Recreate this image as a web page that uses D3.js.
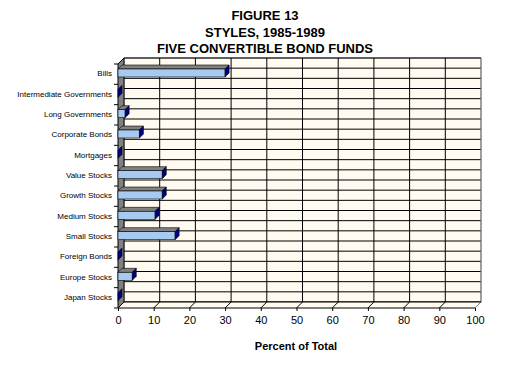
<!DOCTYPE html>
<html><head><meta charset="utf-8">
<script src="https://cdn.jsdelivr.net/npm/d3@7"></script>
<style>body{margin:0;background:#fff}svg{display:block}</style>
</head><body>
<svg id="c" width="505" height="383"></svg>
<script>
const titleLines = ["FIGURE 13", "STYLES, 1985-1989", "FIVE CONVERTIBLE BOND FUNDS"];
const categories = ["Bills","Intermediate Governments","Long Governments","Corporate Bonds","Mortgages","Value Stocks","Growth Stocks","Medium Stocks","Small Stocks","Foreign Bonds","Europe Stocks","Japan Stocks"];
const values = [30, 0, 2, 6, 0, 12.4, 12.4, 10.4, 16, 0, 4, 0];
const xTicks = [0,10,20,30,40,50,60,70,80,90,100];
const xTitle = "Percent of Total";

const svg = d3.select("#c");
const x = d3.scaleLinear().domain([0,100]).range([118,475]);
const y = d3.scaleBand().domain(categories).range([64,308]);
const dx = 6, dy = -6;       // wall depth
const bdx = 4, bdy = -4;     // bar depth
const x0 = x(0), x1 = x(100), yTop = y.range()[0], yBot = y.range()[1];

// back wall
svg.append("rect").attr("x", x0+dx).attr("y", yTop+dy).attr("width", x1-x0).attr("height", yBot-yTop)
  .attr("fill", "#FFFBF0").attr("stroke", "#808080").attr("stroke-width", 1);
// horizontal gridlines (every half category)
const half = [];
for (let i = 0; i <= categories.length*2; i++) half.push(yTop + dy + i*y.step()/2);
svg.append("g").selectAll("line").data(half).join("line")
  .attr("x1", x0+dx).attr("x2", x1+dx).attr("y1", d=>d).attr("y2", d=>d)
  .attr("stroke", "#000").attr("stroke-width", 1);
// vertical gridlines
svg.append("g").selectAll("line").data(xTicks.slice(1,-1)).join("line")
  .attr("x1", d=>x(d)+dx).attr("x2", d=>x(d)+dx).attr("y1", yTop+dy).attr("y2", yBot+dy)
  .attr("stroke", "#000").attr("stroke-width", 1);
svg.append("line").attr("x1", x1+dx).attr("x2", x1+dx).attr("y1", yTop+dy).attr("y2", yBot+dy)
  .attr("stroke", "#808080");

// floor
svg.append("path").attr("d", `M${x0},${yBot}L${x1},${yBot}L${x1+dx},${yBot+dy}L${x0+dx},${yBot+dy}Z`)
  .attr("fill", "#FFFBF0").attr("stroke", "none");
svg.append("g").selectAll("line").data(xTicks.slice(1)).join("line")
  .attr("x1", d=>x(d)).attr("y1", yBot).attr("x2", d=>x(d)+dx).attr("y2", yBot+dy)
  .attr("stroke", d=>d===100?"#808080":"#000");
svg.append("line").attr("x1", x0+dx).attr("x2", x1+dx).attr("y1", yBot+dy).attr("y2", yBot+dy).attr("stroke","#000");

// left wall
svg.append("path").attr("d", `M${x0},${yTop}L${x0+dx},${yTop+dy}L${x0+dx},${yBot+dy}L${x0},${yBot}Z`)
  .attr("fill", "#808080").attr("stroke", "#000").attr("stroke-width", 1);

// bars
const bh = 8, boff = 5;
const bars = svg.append("g").selectAll("g").data(categories).join("g");
bars.each(function(c, i){
  const g = d3.select(this);
  const v = values[i];
  const t = y(c) + boff, xa = x(0), xb = x(v);
  if (v > 0) {
    g.append("path").attr("d", `M${xa},${t}L${xa+bdx},${t+bdy}L${xb+bdx},${t+bdy}L${xb},${t}Z`)
      .attr("fill", "#808080").attr("stroke", "#000").attr("stroke-width", 0.6);
    g.append("rect").attr("x", xa).attr("y", t).attr("width", xb-xa).attr("height", bh)
      .attr("fill", "#A6CAF0").attr("stroke", "#000").attr("stroke-width", 0.6);
  }
  g.append("path").attr("d", `M${xb},${t}L${xb+bdx},${t+bdy}L${xb+bdx},${t+bdy+bh}L${xb},${t+bh}Z`)
    .attr("fill", "#000080").attr("stroke", "#000").attr("stroke-width", 0.6);
});

// front axis line
svg.append("line").attr("x1", x0).attr("x2", x1).attr("y1", yBot).attr("y2", yBot).attr("stroke","#000");

// category axis (ticks at boundaries)
const bounds = categories.map(c=>y(c)).concat([yBot]);
svg.append("g").selectAll("line").data(bounds).join("line")
  .attr("x1", x0-4).attr("x2", x0).attr("y1", d=>d).attr("y2", d=>d).attr("stroke","#000");
svg.append("g").selectAll("text").data(categories).join("text")
  .attr("x", x0-6).attr("y", c=>y(c)+y.bandwidth()/2+2)
  .attr("text-anchor","end").attr("font-family","Liberation Sans, Arial, sans-serif")
  .attr("font-size", 8).attr("fill","#000").text(c=>c);

// x axis
const xAxis = d3.axisBottom(x).tickValues(xTicks).tickSize(3).tickSizeOuter(0).tickFormat(d3.format("d"));
const ax = svg.append("g").attr("transform", `translate(0,${yBot})`).call(xAxis);
ax.select(".domain").remove();
ax.selectAll("text").attr("font-family","Liberation Sans, Arial, sans-serif").attr("font-size", 11).attr("dy", "0.95em").attr("fill","#000");

svg.append("text").attr("x", 296).attr("y", 350).attr("text-anchor","middle")
  .attr("font-family","Liberation Sans, Arial, sans-serif").attr("font-weight","bold").attr("font-size", 11).text(xTitle);

svg.append("g").selectAll("text").data(titleLines).join("text")
  .attr("x", 265).attr("y", (d,i)=>20+i*16.5).attr("text-anchor","middle")
  .attr("font-family","Liberation Sans, Arial, sans-serif").attr("font-weight","bold").attr("font-size", 13)
  .text(d=>d);
</script>
</body></html>
